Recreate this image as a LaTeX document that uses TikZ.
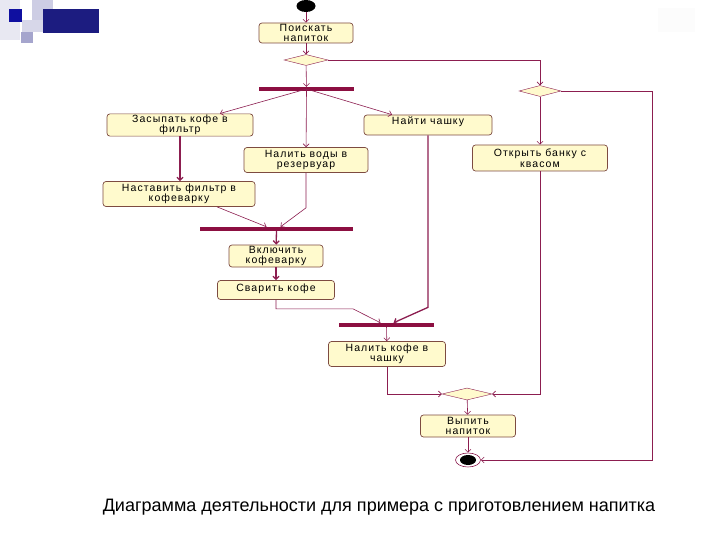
\documentclass[tikz,border=0pt]{standalone}
\usepackage{fontspec}
\setmainfont{Liberation Sans}
\usetikzlibrary{shapes.geometric, arrows.meta, positioning, calc}
\definecolor{boxfill}{RGB}{255,250,205}
\definecolor{boxline}{RGB}{125,75,65}
\definecolor{flowred}{RGB}{140,30,80}
\definecolor{barred}{RGB}{140,15,65}
\definecolor{logonavy}{RGB}{28,28,128}
\definecolor{logoblue}{RGB}{15,15,160}
\definecolor{logolav}{RGB}{205,205,228}
\definecolor{logopale}{RGB}{232,232,242}
\definecolor{logogrey}{RGB}{165,165,205}
\newcommand{\actfont}{\fontsize{10.5}{10.5}\selectfont\addfontfeature{LetterSpace=10}}
\tikzset{
    act/.style={rectangle, draw=boxline, line width=0.7pt, rounded corners=3pt, fill=boxfill, align=center, font=\actfont, inner sep=1pt},
    topline/.style={text depth=#1},
    decide/.style={diamond, draw=flowred, fill=boxfill, inner sep=0pt, minimum width=44pt, minimum height=11pt},
    bar/.style={rectangle, fill=barred, inner sep=0pt, minimum height=4pt},
    flow/.style={-{Straight Barb[length=3pt,width=6pt]}, flowred, line width=0.6pt},
    flowthick/.style={flow, line width=1.3pt}
}

\begin{document}
\begin{tikzpicture}[x=1pt, y=-1pt]
            \useasboundingbox (0,0) rectangle (720,540);
            \fill[white] (0,0) rectangle (720,540);

            % Slide logo
            \fill[logopale] (0,0) rectangle (20,40);
            \fill[logolav] (32,0) rectangle (53,22);
            \fill[logolav!80] (22,20) rectangle (43,32);
            \fill[logonavy] (43,9) rectangle (99,33);
            \fill[logoblue] (9,9) rectangle (22,22);
            \fill[logogrey] (21,32) rectangle (33,43);
            \fill[gray!2] (658,8) rectangle (695,32);

            % Start and first decision
            \node (start) [ellipse, fill=black, minimum width=19pt, minimum height=12pt, inner sep=0pt] at (306,6) {};
            \node (poisk) [act, minimum width=94pt, minimum height=20pt] at (306,33) {Поискать\\напиток};
            \node (d1) [decide] at (306,60) {};
            \node (d2) [decide, minimum width=42pt] at (540,91) {};
            \coordinate (rturn) at (652,91);

            % Fork: coffee branch
            \node (fork1) [bar, minimum width=95pt] at (306.5,89) {};
            \node (zasyp) [act, minimum width=146pt, minimum height=22pt] at (180,125) {Засыпать кофе в\\фильтр};
            \node (voda) [act, minimum width=124pt, minimum height=25pt] at (306,160) {Налить воды в\\резервуар};
            \node (chashka) [act, topline=8pt, minimum width=128pt, minimum height=20pt] at (428,125) {Найти чашку};
            \node (nast) [act, minimum width=152pt, minimum height=25pt] at (179,194) {Наставить фильтр в\\кофеварку};

            \node (join1) [bar, minimum width=153pt] at (276.5,229) {};
            \node (vkl) [act, minimum width=94pt, minimum height=22pt] at (276,256) {Включить\\кофеварку};
            \node (svar) [act, topline=4pt, minimum width=117pt, minimum height=19pt] at (276,290) {Сварить кофе};

            \node (join2) [bar, minimum width=95pt] at (386.5,325) {};
            \node (nalkofe) [act, minimum width=117pt, minimum height=25pt] at (387,354) {Налить кофе в\\чашку};

            % Kvas branch
            \node (otkr) [act, minimum width=135pt, minimum height=26pt] at (540,158) {Открыть банку с\\квасом};

            % Merge and finish
            \node (d3) [decide, minimum width=50pt, minimum height=12pt] at (467,394) {};
            \node (vypit) [act, minimum width=95pt, minimum height=22pt] at (468,426) {Выпить\\напиток};
            \node (finish) [ellipse, draw=flowred, line width=0.6pt, fill=white, minimum width=25pt, minimum height=14pt, inner sep=0pt] at (468,460) {};
            \node (finishin) [ellipse, fill=black, minimum width=16pt, minimum height=10pt, inner sep=0pt] at (finish) {};

            % Connections
            \draw [flow] (start) -- (poisk);
            \draw [flow] (poisk) -- (d1);
            \draw [flow] (d1) -- (fork1);
            \draw [flow] (d1.east) -| (d2.north);
            \draw [flow] (fork1.center) -- ($(zasyp.north)+(40,0)$);
            \draw [flow] (fork1.center) -- (voda);
            \draw [flow] (fork1.center) -- ($(chashka.north)+(-36,0)$);
            \draw [flowthick] (zasyp.south) -- (zasyp.south |- nast.north);
            \draw [flow] ($(nast.south)+(38,0)$) -- ($(join1.north)+(-10,0)$);
            \draw [flow] (voda.south) -- ++(0,35) -- ($(join1.north)+(4,0)$);
            \draw [flowthick] (join1) -- (vkl);
            \draw [flowthick] (vkl) -- (svar);
            \draw [flow] (svar.south) -- ++(0,9) -- ++(77,0) -- ($(join2.north)+(-6,0)$);
            \draw [flowthick] (chashka.south) -- ++(0,172) -- ($(join2.north)+(7,0)$);
            \draw [flow] (join2) -- (nalkofe);
            \draw [flow] (nalkofe.south) |- (d3.west);
            \draw [flow] (d2) -- (otkr);
            \draw [flow] (otkr.south) |- (d3.east);
            \draw [flow] (d3) -- (vypit);
            \draw [flow] (vypit) -- (finish);
            \draw [flow] (d2.east) -- (rturn) |- (finish.east);

            % Caption
            \node (caption) at (379,507) [font=\fontsize{18}{20}\selectfont] {Диаграмма деятельности для примера с приготовлением напитка};
\end{tikzpicture}
\end{document}
